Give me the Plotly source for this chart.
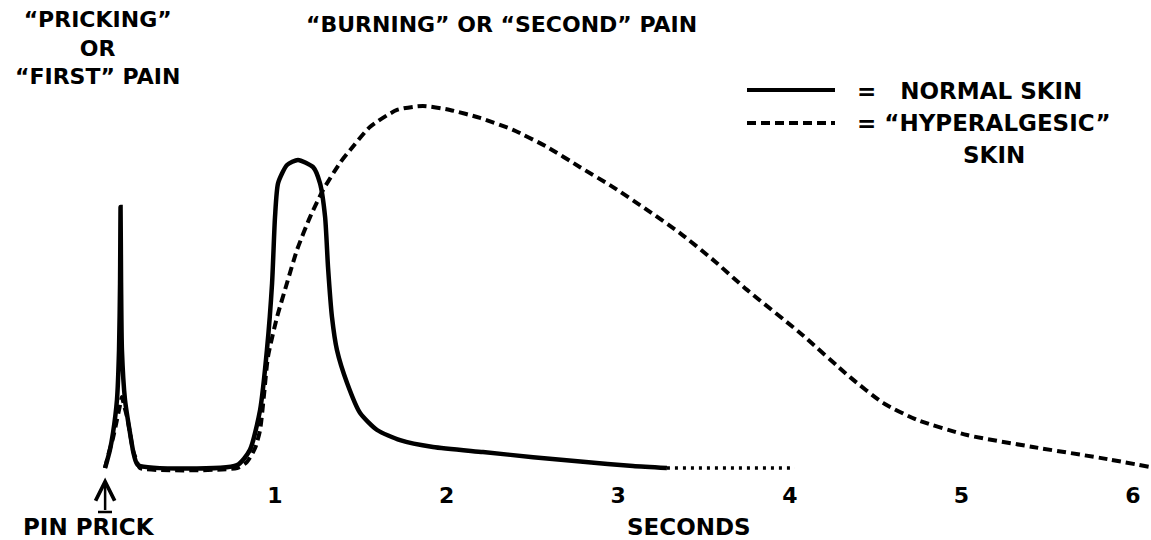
import plotly.graph_objects as go

# ---- data (time in seconds, relative pain intensity) ----
normal_t = [0.01, 0.038, 0.056, 0.079, 0.091, 0.097, 0.100, 0.103, 0.108, 0.126, 0.155, 0.178, 0.202,
            0.779, 0.854, 0.913, 0.953, 0.983, 1.000, 1.018, 1.070, 1.134, 1.222, 1.262, 1.292, 1.309,
            1.332, 1.361, 1.420, 1.496, 1.595, 1.729, 1.921, 2.212, 2.504, 2.795, 3.086, 3.284]
normal_i = [0.0, 5.0, 9.7, 18.8, 32.6, 51.1, 72.1, 51.1, 32.6, 18.8, 9.7, 3.6, 0.8,
            0.8, 5.0, 16.0, 32.6, 51.1, 69.3, 78.7, 83.7, 85.1, 83.1, 78.7, 69.3, 55.5,
            41.7, 32.6, 23.5, 15.2, 10.5, 7.7, 5.8, 4.4, 3.0, 1.7, 0.55, 0.0]

normal_tail_t = [3.284, 4.030]
normal_tail_i = [0.0, 0.0]

hyper_t = [0.009, 0.033, 0.056, 0.079, 0.097, 0.108, 0.120, 0.138, 0.155, 0.172, 0.196, 0.213,
           0.779, 0.837, 0.884, 0.913, 0.936, 0.959, 1.012, 1.070, 1.128, 1.204, 1.280, 1.379,
           1.437, 1.553, 1.711, 1.862, 2.020, 2.195, 2.387, 2.585, 2.778, 2.970, 3.168, 3.360,
           3.553, 3.751, 4.060, 4.351, 4.543, 4.741, 5.033, 5.417, 5.808, 6.099]
hyper_i = [0.0, 4.4, 8.3, 13.3, 17.4, 19.6, 17.4, 14.1, 9.7, 5.0, 1.7, 0.0,
           0.0, 1.7, 5.5, 10.5, 20.2, 30.7, 41.7, 51.1, 60.2, 69.3, 76.8, 84.3,
           87.8, 94.2, 98.9, 100.0, 98.9, 96.7, 93.4, 88.7, 83.1, 77.6, 71.3, 64.9,
           57.5, 49.2, 37.3, 25.1, 18.0, 13.3, 9.1, 5.8, 2.8, 0.3]

tick_vals = [1, 2, 3, 4, 5, 6]
tick_text = ["1", "2", "3", "4", "5", "6"]

W, H = 1151, 540
PLOT_B = 60  # bottom margin
PH = H - PLOT_B
FONT = dict(family="DejaVu Sans", color="black", weight="bold")


def px(x):
    return x / W


def py(y):
    return (PH - y) / PH


fig = go.Figure()
fig.add_trace(go.Scatter(x=hyper_t, y=hyper_i, mode="lines",
                         line=dict(color="black", width=4, dash="9px,5px", shape="spline", smoothing=0.6),
                         hoverinfo="skip", showlegend=False))
fig.add_trace(go.Scatter(x=normal_t, y=normal_i, mode="lines",
                         line=dict(color="black", width=4.5, shape="spline", smoothing=0.6),
                         hoverinfo="skip", showlegend=False))
fig.add_trace(go.Scatter(x=normal_tail_t, y=normal_tail_i, mode="lines",
                         line=dict(color="black", width=3.5, dash="3px,5px"),
                         hoverinfo="skip", showlegend=False))

annotations = [
    dict(text="“PRICKING”<br>OR<br>“FIRST” PAIN", x=px(97), y=py(48), font=dict(size=22, **FONT)),
    dict(text="“BURNING” OR “SECOND” PAIN", x=px(501), y=py(24), font=dict(size=22, **FONT)),
    dict(text="=   NORMAL SKIN", x=px(855), y=py(91), xanchor="left", font=dict(size=23, **FONT)),
    dict(text="= “HYPERALGESIC”", x=px(855), y=py(123), xanchor="left", font=dict(size=23, **FONT)),
    dict(text="SKIN", x=px(994), y=py(155), font=dict(size=23, **FONT)),
    dict(text="PIN PRICK", x=px(89), y=py(527), font=dict(size=23, **FONT)),
    dict(text="SECONDS", x=px(689), y=py(527), font=dict(size=23, **FONT)),
]
for a in annotations:
    a.setdefault("xanchor", "center")
    a["yanchor"] = "middle"
    a["xref"] = "paper"
    a["yref"] = "paper"
    a["showarrow"] = False

# pin prick arrow
annotations.append(dict(x=0.01, y=-2.6, xref="x", yref="y", text="", showarrow=True,
                        ax=0, ay=34, arrowhead=5, arrowsize=1.5, arrowwidth=2.5, arrowcolor="black"))

shapes = [
    dict(type="line", xref="paper", yref="paper", x0=px(747), x1=px(835), y0=py(90), y1=py(90),
         line=dict(color="black", width=4)),
    dict(type="line", xref="paper", yref="paper", x0=px(747), x1=px(835), y0=py(123), y1=py(123),
         line=dict(color="black", width=4, dash="9px,5px")),
    dict(type="line", xref="paper", yref="paper", x0=px(98), x1=px(112), y0=py(512), y1=py(512),
         line=dict(color="black", width=2.5)),
]

fig.update_layout(
    width=W, height=H,
    margin=dict(l=0, r=0, t=0, b=PLOT_B),
    paper_bgcolor="white", plot_bgcolor="white",
    annotations=annotations, shapes=shapes, showlegend=False,
)
fig.update_xaxes(range=[-103.4 / 171.6, (W - 103.4) / 171.6], tickvals=tick_vals, ticktext=tick_text,
                 showgrid=False, zeroline=False, showline=False, ticks="",
                 tickfont=dict(size=22, **FONT))
fig.update_yaxes(range=[(468 - PH) / 3.62, 468 / 3.62], showgrid=False, zeroline=False,
                 showline=False, showticklabels=False, ticks="")

fig.write_html("out.html", config={"displayModeBar": False},
               post_script="document.body.style.margin='0';document.body.style.overflow='hidden';")
